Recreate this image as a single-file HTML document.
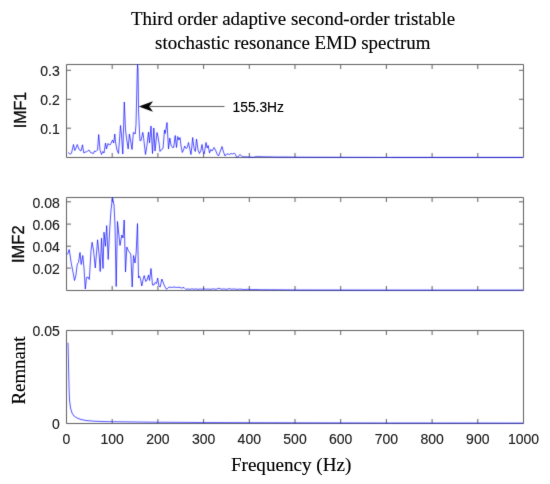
<!DOCTYPE html>
<html><head><meta charset="utf-8"><title>EMD spectrum</title><style>html,body{margin:0;padding:0;background:#fff;width:550px;height:484px;overflow:hidden;}svg{display:block;}</style></head><body>
<svg width="550" height="484" viewBox="0 0 550 484">
<rect width="550" height="484" fill="#fff"/>
<defs><filter id="soft" x="0" y="0" width="550" height="484" filterUnits="userSpaceOnUse"><feConvolveMatrix order="3" kernelMatrix="0.02 0.08 0.02 0.08 0.6 0.08 0.02 0.08 0.02" edgeMode="none"/></filter><filter id="soft2" x="0" y="0" width="550" height="484" filterUnits="userSpaceOnUse"><feConvolveMatrix order="3" kernelMatrix="0.01 0.04 0.01 0.04 0.8 0.04 0.01 0.04 0.01" edgeMode="none"/></filter></defs>
<g filter="url(#soft)">
<path d="M66.5 64.5H523.5V157.5H66.5ZM112.20 157.5v-4.5M112.20 64.5v4.5M157.90 157.5v-4.5M157.90 64.5v4.5M203.60 157.5v-4.5M203.60 64.5v4.5M249.30 157.5v-4.5M249.30 64.5v4.5M295.00 157.5v-4.5M295.00 64.5v4.5M340.70 157.5v-4.5M340.70 64.5v4.5M386.40 157.5v-4.5M386.40 64.5v4.5M432.10 157.5v-4.5M432.10 64.5v4.5M477.80 157.5v-4.5M477.80 64.5v4.5M66.5 128.20h4.5M523.5 128.20h-4.5M66.5 99.30h4.5M523.5 99.30h-4.5M66.5 70.30h4.5M523.5 70.30h-4.5M66.5 197.5H523.5V290.5H66.5ZM112.20 290.5v-4.5M112.20 197.5v4.5M157.90 290.5v-4.5M157.90 197.5v4.5M203.60 290.5v-4.5M203.60 197.5v4.5M249.30 290.5v-4.5M249.30 197.5v4.5M295.00 290.5v-4.5M295.00 197.5v4.5M340.70 290.5v-4.5M340.70 197.5v4.5M386.40 290.5v-4.5M386.40 197.5v4.5M432.10 290.5v-4.5M432.10 197.5v4.5M477.80 290.5v-4.5M477.80 197.5v4.5M66.5 268.10h4.5M523.5 268.10h-4.5M66.5 246.20h4.5M523.5 246.20h-4.5M66.5 224.10h4.5M523.5 224.10h-4.5M66.5 201.80h4.5M523.5 201.80h-4.5M66.5 330.5H523.5V423.5H66.5ZM112.20 423.5v-4.5M112.20 330.5v4.5M157.90 423.5v-4.5M157.90 330.5v4.5M203.60 423.5v-4.5M203.60 330.5v4.5M249.30 423.5v-4.5M249.30 330.5v4.5M295.00 423.5v-4.5M295.00 330.5v4.5M340.70 423.5v-4.5M340.70 330.5v4.5M386.40 423.5v-4.5M386.40 330.5v4.5M432.10 423.5v-4.5M432.10 330.5v4.5M477.80 423.5v-4.5M477.80 330.5v4.5M66.5 423.50h4.5M523.5 423.50h-4.5M66.5 330.50h4.5M523.5 330.50h-4.5" fill="none" stroke="#5f5f5f" stroke-width="1"/>
<polyline points="68.00,152.40 69.20,153.50 70.50,154.20 71.50,153.00 73.50,144.50 74.80,150.50 75.80,148.50 77.30,144.50 78.50,148.00 79.50,150.00 81.00,151.00 82.50,144.80 83.80,153.00 85.00,152.00 86.50,152.00 87.50,151.00 89.00,150.00 90.50,152.50 92.00,153.00 93.50,153.50 94.50,151.00 96.00,151.50 97.50,150.00 98.70,134.50 100.00,150.00 101.50,154.50 102.80,151.50 104.00,153.00 105.50,143.00 106.50,149.00 108.00,143.50 109.20,145.00 110.50,144.50 112.50,140.00 113.70,143.00 114.80,134.00 115.50,142.00 117.00,150.00 118.50,153.50 120.50,125.50 121.50,135.00 122.80,154.00 124.30,102.00 125.50,130.00 126.50,138.00 128.20,149.00 129.40,134.00 130.50,140.00 132.00,149.50 133.40,132.40 134.50,133.00 135.20,134.00 136.00,124.50 137.30,70.00 137.60,64.30 138.00,70.00 138.60,112.00 139.90,140.50 141.00,140.70 142.80,132.40 143.50,137.00 145.50,154.50 147.00,145.00 148.50,132.00 149.50,143.00 151.00,126.00 152.50,153.50 153.80,128.00 155.00,151.00 157.00,132.50 158.00,136.50 159.00,143.00 160.00,151.50 161.50,149.50 163.00,148.50 164.50,130.00 165.20,133.50 167.00,122.50 168.50,149.00 169.80,138.00 171.00,145.00 172.50,147.50 173.70,147.50 175.20,135.50 176.50,147.50 177.70,136.50 178.80,140.00 180.00,137.50 181.20,147.00 182.30,152.50 183.50,150.00 184.70,146.00 186.00,148.50 187.30,147.50 188.50,142.50 189.80,149.00 191.00,154.50 192.70,137.50 194.00,148.50 195.30,151.50 196.50,139.00 198.00,150.00 199.50,153.50 201.00,150.00 202.00,144.50 203.20,152.00 204.20,154.00 206.00,142.50 207.20,148.00 208.20,145.50 209.50,153.00 210.80,149.50 212.20,151.00 214.00,147.50 215.50,150.00 217.00,154.00 218.50,156.00 220.00,152.00 222.00,146.50 223.50,152.00 225.00,156.00 226.50,154.00 228.00,154.00 229.50,154.50 231.00,153.50 232.50,154.00 234.50,153.20 235.50,154.50 236.50,157.30 238.00,157.00 240.00,154.50 241.50,156.20 243.00,156.80 246.00,156.80 250.00,157.00 253.00,157.30 256.00,156.60 260.00,156.60 265.00,156.80 270.00,156.80 275.00,157.00 285.00,157.00 300.00,157.20 350.00,157.30 400.00,157.40 450.00,157.40 523.00,157.40" fill="none" stroke="#0000ff" stroke-width="0.7" stroke-linejoin="round"/>
<polyline points="67.50,254.50 69.20,249.50 70.20,256.00 71.20,263.00 72.80,271.00 74.50,280.50 75.80,276.00 77.30,264.00 78.50,262.50 80.00,252.50 81.20,264.50 82.80,255.50 84.00,268.00 85.30,289.00 86.50,277.50 88.00,277.00 89.30,279.50 91.00,251.00 92.10,242.30 93.50,250.00 95.30,268.00 97.60,239.80 99.30,257.00 100.20,271.50 101.50,238.20 103.00,268.50 104.00,232.20 105.40,246.30 106.70,225.60 108.20,259.50 109.80,228.00 111.00,210.00 112.50,197.50 114.00,205.00 115.00,225.00 116.20,286.50 117.50,221.50 120.00,245.50 121.80,235.00 123.00,238.00 124.20,220.00 125.50,272.00 126.80,247.00 128.50,251.00 130.00,253.00 130.80,254.00 132.20,287.00 133.50,255.50 135.00,263.00 136.20,252.00 137.50,223.50 138.50,278.00 139.50,276.00 140.50,279.00 141.80,286.00 143.00,280.00 144.20,275.50 145.80,281.50 147.00,280.00 148.50,275.00 149.50,280.50 151.00,268.50 152.50,285.00 154.00,285.00 155.00,282.50 156.50,283.50 157.70,278.00 158.80,286.00 160.20,287.00 161.80,279.00 163.00,282.00 164.50,286.00 166.50,289.50 169.00,287.00 171.50,287.50 174.00,287.00 176.50,287.50 179.00,287.20 181.50,288.00 184.00,287.50 186.00,289.50 188.00,288.90 190.00,289.40 192.00,288.80 194.00,289.30 196.00,288.90 198.00,289.40 200.00,289.00 202.00,289.30 204.00,288.70 206.00,289.30 208.00,289.00 210.00,289.40 213.00,288.90 216.00,289.30 219.00,288.20 221.00,289.20 224.00,289.00 227.00,289.40 229.00,288.60 231.00,289.20 234.00,289.00 237.00,289.40 240.00,289.10 244.00,289.50 248.00,289.30 252.00,289.60 256.00,289.50 260.00,289.70 280.00,289.80 300.00,290.00 400.00,290.10 523.00,290.10" fill="none" stroke="#0000ff" stroke-width="0.7" stroke-linejoin="round"/>
<polyline points="68.00,342.70 68.40,360.00 68.80,378.00 69.10,390.00 69.50,400.00 70.50,408.00 72.00,413.00 74.00,416.00 77.00,418.00 81.00,419.50 86.00,420.50 94.00,421.20 104.00,421.60 119.00,421.80 150.00,422.20 200.00,422.50 300.00,422.80 400.00,423.00 523.00,423.10" fill="none" stroke="#0000ff" stroke-width="0.7" stroke-linejoin="round"/>
<path d="M224.5 106.5H150" stroke="#5f5f5f" stroke-width="1"/>
<path d="M138.8 106.5L153.0 101.2L149.3 106.5L153.0 111.8Z" fill="#000"/>
</g>
<g filter="url(#soft2)">
<g font-family="Liberation Serif, serif" font-size="18.9" fill="#000" stroke="#000" stroke-width="0.15" text-anchor="middle"><text x="293.0" y="24.8">Third order adaptive second-order tristable</text><text x="292.8" y="49.0">stochastic resonance EMD spectrum</text></g>
<g font-family="Liberation Sans, sans-serif" font-size="14" fill="#222" stroke="#222" stroke-width="0.15"><text x="59.8" y="134.10" text-anchor="end">0.1</text><text x="59.8" y="105.20" text-anchor="end">0.2</text><text x="59.8" y="76.20" text-anchor="end">0.3</text><text x="59.8" y="274.00" text-anchor="end">0.02</text><text x="59.8" y="252.10" text-anchor="end">0.04</text><text x="59.8" y="230.00" text-anchor="end">0.06</text><text x="59.8" y="207.70" text-anchor="end">0.08</text><text x="59.8" y="429.40" text-anchor="end">0</text><text x="59.8" y="336.40" text-anchor="end">0.05</text><text x="66.50" y="443.5" text-anchor="middle">0</text><text x="112.20" y="443.5" text-anchor="middle">100</text><text x="157.90" y="443.5" text-anchor="middle">200</text><text x="203.60" y="443.5" text-anchor="middle">300</text><text x="249.30" y="443.5" text-anchor="middle">400</text><text x="295.00" y="443.5" text-anchor="middle">500</text><text x="340.70" y="443.5" text-anchor="middle">600</text><text x="386.40" y="443.5" text-anchor="middle">700</text><text x="432.10" y="443.5" text-anchor="middle">800</text><text x="477.80" y="443.5" text-anchor="middle">900</text><text x="523.50" y="443.5" text-anchor="middle">1000</text></g>
<g font-family="Liberation Sans, sans-serif" font-size="16.5" fill="#111" stroke="#111" stroke-width="0.35" text-anchor="middle"><text transform="translate(25.6,110.1) rotate(-90)" font-size="16">IMF1</text><text transform="translate(24.0,244.2) rotate(-90)">IMF2</text></g>
<text transform="translate(24.9,370.5) rotate(-90)" font-family="Liberation Serif, serif" font-size="18.9" fill="#000" stroke="#000" stroke-width="0.15" text-anchor="middle">Remnant</text>
<text x="291.1" y="471.4" font-family="Liberation Serif, serif" font-size="19.1" fill="#000" stroke="#000" stroke-width="0.15" text-anchor="middle">Frequency (Hz)</text>
<text x="232.6" y="111.8" font-family="Liberation Sans, sans-serif" font-size="13.8" fill="#000" stroke="#000" stroke-width="0.15">155.3Hz</text>
</g>
</svg>
</body></html>
